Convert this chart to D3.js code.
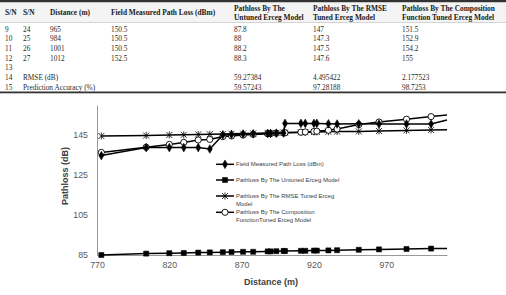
<!DOCTYPE html>
<html>
<head>
<meta charset="utf-8">
<script src="https://cdn.jsdelivr.net/npm/d3@7"></script>
<style>
  body { margin: 0; background: #fff; }
  svg { display: block; }
</style>
</head>
<body>
<div id="chart"></div>
<script>
const width = 506;
const height = 295;

// table content
const headerCols = [
  ["S/N"], ["S/N"], ["Distance (m)"], ["Field Measured Path Loss (dBm)"],
  ["Pathloss By The", "Untuned Erceg Model"],
  ["Pathloss By The RMSE", "Tuned Erceg Model"],
  ["Pathloss By The Composition", "Function Tuned Erceg Model"]
];
const tableRows = [
  ["9", "24", "965", "150.5", "87.8", "147", "151.5"],
  ["10", "25", "984", "150.5", "88", "147.3", "152.9"],
  ["11", "26", "1001", "150.5", "88.2", "147.5", "154.2"],
  ["12", "27", "1012", "152.5", "88.3", "147.6", "155"],
  ["13", "", "", "", "", "", ""],
  ["14", "RMSE (dB)", "", "", "59.27384", "4.495422", "2.177523"],
  ["15", "Prediction Accuracy (%)", "", "", "59.57243", "97.28188", "98.7253"]
];

// chart data
const distance = [773, 804, 820, 830, 840, 848, 857, 863, 871, 878, 888, 890, 894, 899, 900, 911, 914, 920, 922, 930, 936, 951, 965, 984, 1001, 1012];
const fieldMeasured = [134.7, 138.7, 138.7, 138.7, 138.7, 138.0, 145.0, 145.3, 145.5, 145.6, 145.8, 145.8, 145.9, 146.0, 150.8, 150.8, 150.8, 150.8, 150.8, 150.6, 150.5, 150.6, 150.5, 150.5, 150.5, 152.5];
const untuned = [85.0, 85.7, 85.9, 86.0, 86.2, 86.3, 86.4, 86.5, 86.6, 86.6, 86.8, 86.8, 86.9, 87.0, 87.0, 87.1, 87.1, 87.2, 87.2, 87.3, 87.4, 87.6, 87.8, 88.0, 88.2, 88.3];
const rmseTuned = [144.5, 144.7, 145.0, 145.1, 145.3, 145.4, 145.5, 145.6, 145.7, 145.8, 146.0, 146.0, 146.1, 146.2, 146.2, 146.3, 146.4, 146.5, 146.5, 146.6, 146.7, 146.8, 147.0, 147.3, 147.5, 147.6];
const composition = [136.3, 138.9, 140.3, 141.3, 142.5, 142.8, 144.2, 144.5, 145.0, 145.3, 145.6, 145.7, 145.9, 146.0, 146.1, 146.4, 146.5, 146.8, 146.9, 147.4, 148.0, 150.2, 151.5, 152.9, 154.2, 155.0];

const yTicks = [85, 105, 125, 145];
const xTicks = [770, 820, 870, 920, 970];

const seriesNames = [
  ["Field Measured Path Loss (dBm)"],
  ["Pathloss By The Untuned Erceg  Model"],
  ["Pathloss By The RMSE Tuned Erceg", "Model"],
  ["Pathloss By The Composition", "FunctionTuned Erceg  Model"]
];
const markerTypes = ["diamond", "square", "asterisk", "circle"];

const svg = d3.select("#chart")
  .append("svg")
  .attr("width", width)
  .attr("height", height);

// ---------- table ----------
const colX = [5, 23, 50, 111, 234, 313, 402];
const table = svg.append("g").attr("font-family", "'Liberation Serif', 'Times New Roman', serif");

table.append("rect").attr("x", 0).attr("y", 0).attr("width", width).attr("height", 2.5).attr("fill", "#333");
table.append("rect").attr("x", 0).attr("y", 2.5).attr("width", width).attr("height", 20).attr("fill", "#f4f4f4");
table.append("line").attr("x1", 0).attr("x2", width).attr("y1", 22.5).attr("y2", 22.5)
  .attr("stroke", "#bbb").attr("stroke-width", 0.6);

headerCols.forEach((lines, i) => {
  const t = table.append("text")
    .attr("x", colX[i])
    .attr("font-weight", "bold")
    .attr("font-size", 7.4)
    .attr("fill", "#1a1a1a");
  if (lines.length === 1) {
    t.attr("y", 15).text(lines[0]);
  } else {
    lines.forEach((l, j) => {
      t.append("tspan").attr("x", colX[i]).attr("y", 10.5 + j * 9).text(l);
    });
  }
});

tableRows.forEach((row, r) => {
  const yy = 31.8 + r * 9.65;
  row.forEach((cell, c) => {
    if (!cell) return;
    table.append("text")
      .attr("x", colX[c])
      .attr("y", yy)
      .attr("font-size", 7.3)
      .attr("fill", "#2a2a2a")
      .text(cell);
  });
});

table.append("rect").attr("x", 0).attr("y", 91.5).attr("width", width).attr("height", 1.8).attr("fill", "#333");

// ---------- chart ----------
const x = d3.scaleLinear().domain([770, 1012]).range([97, 447]);
const y = d3.scaleLinear().domain([85, 160]).range([255, 105]);

const chart = svg.append("g").attr("font-family", "'Liberation Sans', Arial, sans-serif");

const yAxis = chart.append("g")
  .attr("transform", `translate(${x.range()[0]},0)`)
  .call(d3.axisLeft(y).tickValues(yTicks).tickSize(0).tickPadding(9).tickFormat(d3.format("d")));
const xAxis = chart.append("g")
  .attr("transform", `translate(0,${y.range()[0]})`)
  .call(d3.axisBottom(x).tickValues(xTicks).tickSize(0).tickPadding(7).tickFormat(d3.format("d")));

[yAxis, xAxis].forEach(a => {
  a.select(".domain").attr("stroke", "#8c8c8c").attr("stroke-width", 0.9);
  a.selectAll("text").attr("font-size", 8.8).attr("fill", "#595959").attr("font-family", "'Liberation Sans', Arial, sans-serif");
});

chart.append("text")
  .attr("transform", "translate(68,176) rotate(-90)")
  .attr("text-anchor", "middle")
  .attr("font-size", 9)
  .attr("font-weight", "bold")
  .attr("fill", "#404040")
  .text("Pathloss (dB)");

chart.append("text")
  .attr("x", 271)
  .attr("y", 285)
  .attr("text-anchor", "middle")
  .attr("font-size", 9)
  .attr("font-weight", "bold")
  .attr("fill", "#404040")
  .text("Distance (m)");

function markerPath(type) {
  if (type === "asterisk") {
    const s = 3;
    return `M${-s},${-s}L${s},${s}M${-s},${s}L${s},${-s}M0,${-s - 0.5}L0,${s + 0.5}`;
  }
  if (type === "diamond") return d3.symbol(d3.symbolDiamond, 22)();
  if (type === "square") return d3.symbol(d3.symbolSquare, 26)();
  return d3.symbol(d3.symbolCircle, 30)();
}

function drawMarker(g, type) {
  g.append("path")
    .attr("d", markerPath(type))
    .attr("fill", type === "circle" ? "#fff" : (type === "asterisk" ? "none" : "#000"))
    .attr("stroke", "#000")
    .attr("stroke-width", type === "circle" ? 0.9 : (type === "asterisk" ? 0.8 : 0.5));
}

const allSeries = [fieldMeasured, untuned, rmseTuned, composition];
const line = d3.line().x(d => x(d[0])).y(d => y(d[1]));

// draw back to front like the reference: composition/rmse under field
const order = [1, 2, 3, 0];
order.forEach(si => {
  const pts = distance.map((d, i) => [d, allSeries[si][i]]);
  chart.append("path")
    .datum(pts)
    .attr("d", line)
    .attr("fill", "none")
    .attr("stroke", "#000")
    .attr("stroke-width", 1.5);
  // the last point sits on the axis end and shows no marker
  pts.slice(0, -1).forEach(p => {
    const g = chart.append("g").attr("transform", `translate(${x(p[0])},${y(p[1])})`);
    drawMarker(g, markerTypes[si]);
  });
});

// legend
const legendY = [164.3, 180, 196, 212.3];
const legend = chart.append("g");
seriesNames.forEach((lines, i) => {
  legend.append("line")
    .attr("x1", 216).attr("x2", 234)
    .attr("y1", legendY[i]).attr("y2", legendY[i])
    .attr("stroke", "#000").attr("stroke-width", 1.5);
  const g = legend.append("g").attr("transform", `translate(225,${legendY[i]})`);
  drawMarker(g, markerTypes[i]);
  const t = legend.append("text")
    .attr("font-size", 6)
    .attr("fill", "#404040");
  lines.forEach((l, j) => {
    t.append("tspan").attr("x", 236).attr("y", legendY[i] + 2 + j * 7.7).text(l);
  });
});
</script>
</body>
</html>
